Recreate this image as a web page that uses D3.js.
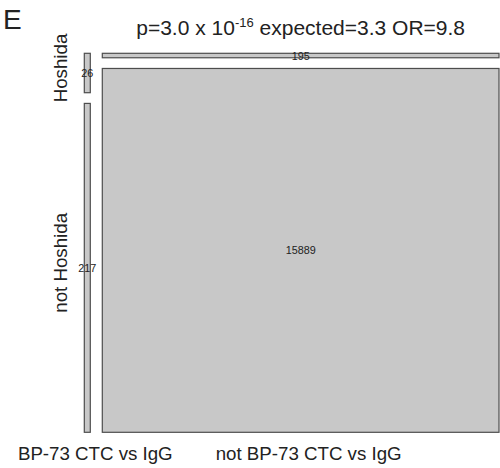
<!DOCTYPE html>
<html>
<head>
<meta charset="utf-8">
<script src="https://cdn.jsdelivr.net/npm/d3@7"></script>
<style>
  body { margin: 0; background: #fff; }
  svg text { font-family: "Liberation Sans", Arial, sans-serif; fill: #222; }
</style>
</head>
<body>
<div id="my_dataviz"></div>
<script>
// contingency table
var rowLabels = ["Hoshida", "not Hoshida"];
var colLabels = ["BP-73 CTC vs IgG", "not BP-73 CTC vs IgG"];
var hoshidaCounts = [26, 195];       // Hoshida row
var notHoshidaCounts = [217, 15889]; // not Hoshida row
var panelLetter = "E";
var titleParts = ["p=3.0 x 10", "-16", " expected=3.3 OR=9.8"];

window.onload = function() {
  var width = 500, height = 468;
  var plot = {left: 84.3, right: 499, top: 53.3, bottom: 432.3};
  var gapX = 12, gapY = 10.7;

  var svg = d3.select("#my_dataviz")
    .append("svg")
      .attr("width", width)
      .attr("height", height);

  var rows = [hoshidaCounts, notHoshidaCounts];
  var colTotals = colLabels.map(function(c, j) { return d3.sum(rows, function(r) { return r[j]; }); });

  // column widths proportional to column totals
  var x = d3.scaleLinear()
    .domain([0, d3.sum(colTotals)])
    .range([0, plot.right - plot.left - gapX * (colLabels.length - 1)]);

  var cells = [];
  var cols = [];
  var xStart = plot.left;
  colLabels.forEach(function(c, j) {
    var w = x(colTotals[j]);
    // heights within a column proportional to row counts
    var y = d3.scaleLinear()
      .domain([0, colTotals[j]])
      .range([0, plot.bottom - plot.top - gapY * (rows.length - 1)]);
    var yStart = plot.top;
    rows.forEach(function(r, i) {
      var h = y(r[j]);
      cells.push({row: i, col: j, value: r[j], x: xStart, y: yStart, w: w, h: h});
      yStart += h + gapY;
    });
    cols.push({x: xStart, w: w});
    xStart += w + gapX;
  });

  svg.append("g")
    .selectAll("rect")
    .data(cells)
    .enter()
    .append("rect")
      .attr("x", function(d) { return d.x; })
      .attr("y", function(d) { return d.y; })
      .attr("width", function(d) { return d.w; })
      .attr("height", function(d) { return d.h; })
      .style("fill", "#c8c8c8")
      .style("stroke", "#4d4d4d")
      .style("stroke-width", "1.2px");

  svg.append("g")
    .selectAll("text")
    .data(cells)
    .enter()
    .append("text")
      .attr("x", function(d) { return d.x + d.w / 2; })
      .attr("y", function(d) { return d.y + d.h / 2; })
      .attr("text-anchor", "middle")
      .attr("dominant-baseline", "central")
      .style("font-size", "10.8px")
      .text(function(d) { return d.value; });

  // row labels (rotated), centred on the first column's cells
  svg.append("g")
    .selectAll("text")
    .data(rowLabels)
    .enter()
    .append("text")
      .attr("transform", function(d, i) {
        var c = cells.filter(function(e) { return e.row == i && e.col == 0; })[0];
        return "translate(67," + (c.y + c.h / 2 - 5) + ") rotate(-90)";
      })
      .attr("text-anchor", "middle")
      .style("font-size", "18.7px")
      .text(function(d) { return d; });

  // column labels, a little right of the column centres
  svg.append("g")
    .selectAll("text")
    .data(colLabels)
    .enter()
    .append("text")
      .attr("x", function(d, i) { return cols[i].x + cols[i].w / 2 + 8; })
      .attr("y", 460)
      .attr("text-anchor", "middle")
      .style("font-size", "18.7px")
      .text(function(d) { return d; });

  // title
  var title = svg.append("text")
    .attr("x", cols[1].x + cols[1].w / 2)
    .attr("y", 35)
    .attr("text-anchor", "middle")
    .style("font-size", "21px");
  title.append("tspan").text(titleParts[0]);
  title.append("tspan").attr("dy", -8).style("font-size", "13px").text(titleParts[1]);
  title.append("tspan").attr("dy", 8).text(titleParts[2]);

  svg.append("text")
    .attr("x", 3)
    .attr("y", 29)
    .style("font-size", "28px")
    .text(panelLetter);
};
</script>
</body>
</html>
